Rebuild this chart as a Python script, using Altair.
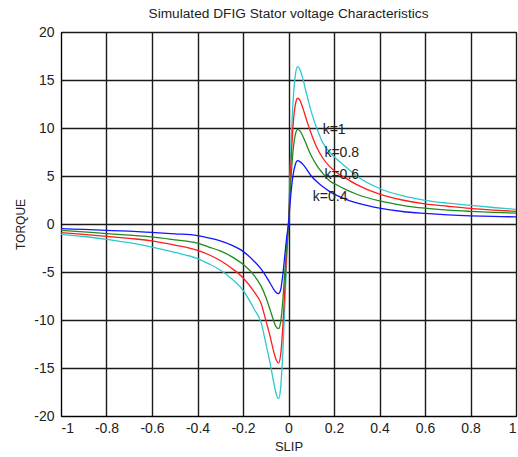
import altair as alt
import pandas as pd

# ---- data ----
SLIP = [-1.0, -0.9, -0.8, -0.7, -0.6, -0.5, -0.4, -0.35, -0.3, -0.25, -0.2, -0.15, -0.12, -0.1,
        -0.08, -0.065, -0.055, -0.044, -0.035, -0.025, -0.015, -0.007, 0.0,
        0.005, 0.01, 0.02, 0.03, 0.04, 0.05, 0.06, 0.08, 0.1, 0.13, 0.15, 0.18, 0.21, 0.25,
        0.3, 0.4, 0.5, 0.6, 0.7, 0.8, 0.9, 1.0]

TORQUE_K1 = [-1.07, -1.3, -1.6, -1.95, -2.4, -2.95, -3.6, -4.15, -4.8, -5.7, -6.9, -8.9, -10.3, -12.4,
             -14.6, -16.5, -17.6, -18.2, -17.2, -13.4, -7.8, -3.3, 0.0,
             4.0, 7.4, 12.7, 15.5, 16.4, 16.1, 15.4, 13.5, 11.7, 9.6, 8.5, 7.5, 6.8, 6.0,
             5.0, 3.7, 2.95, 2.47, 2.17, 1.95, 1.72, 1.53]

TORQUE_K08 = [-0.9, -1.08, -1.28, -1.5, -1.75, -2.2, -2.75, -3.2, -3.8, -4.6, -5.6, -7.1, -8.3, -10.0,
              -11.8, -13.3, -14.1, -14.5, -13.7, -10.7, -6.2, -2.6, 0.0,
              3.2, 5.9, 10.2, 12.4, 13.1, 12.9, 12.3, 10.8, 9.4, 7.7, 6.9, 6.0, 5.4, 4.8,
              4.1, 3.1, 2.5, 2.1, 1.85, 1.62, 1.45, 1.32]

TORQUE_K06 = [-0.66, -0.82, -1.0, -1.15, -1.34, -1.65, -2.0, -2.4, -2.8, -3.4, -4.2, -5.4, -6.5, -7.6,
              -9.0, -10.1, -10.7, -10.9, -10.3, -8.0, -4.6, -2.0, 0.0,
              2.4, 4.4, 7.6, 9.3, 9.85, 9.7, 9.3, 8.2, 7.1, 5.9, 5.3, 4.5, 4.1, 3.6,
              3.1, 2.4, 1.95, 1.65, 1.45, 1.32, 1.22, 1.14]

TORQUE_K04 = [-0.48, -0.57, -0.66, -0.75, -0.88, -1.02, -1.2, -1.45, -1.75, -2.2, -2.85, -3.9, -4.7, -5.4,
              -6.2, -6.8, -7.1, -7.25, -6.9, -5.3, -3.0, -1.2, 0.0,
              1.6, 3.0, 5.1, 6.2, 6.6, 6.5, 6.3, 5.7, 5.0, 4.3, 3.9, 3.4, 3.0, 2.6,
              2.2, 1.65, 1.3, 1.1, 0.95, 0.85, 0.79, 0.74]

SERIES_NAMES = ["k=1", "k=0.8", "k=0.6", "k=0.4"]
SERIES_COLORS = ["#2EC8CC", "#FF1E1E", "#1E8C1E", "#1414FF"]

LABEL_TEXT = ["k=1", "k=0.8", "k=0.6", "k=0.4"]
LABEL_X = [0.15, 0.158, 0.158, 0.107]
LABEL_Y = [9.8, 7.4, 5.1, 2.8]

X_TICKS = [-1, -0.8, -0.6, -0.4, -0.2, 0, 0.2, 0.4, 0.6, 0.8, 1]
Y_TICKS = [-20, -15, -10, -5, 0, 5, 10, 15, 20]

# ---- build tables ----
rows = []
for name, vals in zip(SERIES_NAMES, [TORQUE_K1, TORQUE_K08, TORQUE_K06, TORQUE_K04]):
    for i, (s, t) in enumerate(zip(SLIP, vals)):
        rows.append({"series": name, "slip": s, "torque": t, "order": i})
df = pd.DataFrame(rows)
labels = pd.DataFrame({"text": LABEL_TEXT, "x": LABEL_X, "y": LABEL_Y})

FONT = "Liberation Sans"

xscale = alt.Scale(domain=[-1, 1], nice=False, zero=False)
yscale = alt.Scale(domain=[-20, 20], nice=False, zero=False)

lines = alt.Chart(df).mark_line(strokeWidth=1.3, interpolate="monotone", clip=True).encode(
    x=alt.X("slip:Q", scale=xscale,
            axis=alt.Axis(values=X_TICKS, title="SLIP", labelExpr="'' + datum.value", grid=True,
                          ticks=False, labelPadding=5, titleFontSize=13, titlePadding=5)),
    y=alt.Y("torque:Q", scale=yscale,
            axis=alt.Axis(values=Y_TICKS, title="TORQUE", labelExpr="'' + datum.value", grid=True,
                          ticks=False, labelPadding=7, titleFontSize=12, titlePadding=6)),
    color=alt.Color("series:N", scale=alt.Scale(domain=SERIES_NAMES, range=SERIES_COLORS), legend=None),
    order="order:Q",
)

text = alt.Chart(labels).mark_text(align="left", baseline="middle", font=FONT, fontSize=14,
                                    color="#222222").encode(
    x=alt.X("x:Q", scale=xscale),
    y=alt.Y("y:Q", scale=yscale),
    text="text:N",
)

chart = (lines + text).properties(
    width=455, height=384,
    background="white",
    title=alt.TitleParams("Simulated DFIG Stator voltage Characteristics", font=FONT,
                          fontSize=13.7, fontWeight="normal", color="#222222",
                          anchor="middle", offset=4),
    autosize=alt.AutoSizeParams(type="none"),
    padding={"left": 61, "top": 32, "right": 2, "bottom": 41},
).configure_view(
    stroke="#000000", strokeWidth=1
).configure_axis(
    labelFont=FONT, labelFontSize=14, labelColor="#222222",
    titleFont=FONT, titleFontWeight="normal", titleColor="#222222",
    domainColor="#000000", domainWidth=1,
    gridColor="#1a1a1a", gridWidth=1.4, gridOpacity=1,
)

chart.save("out.html", embed_options={"renderer": "svg", "actions": False})
